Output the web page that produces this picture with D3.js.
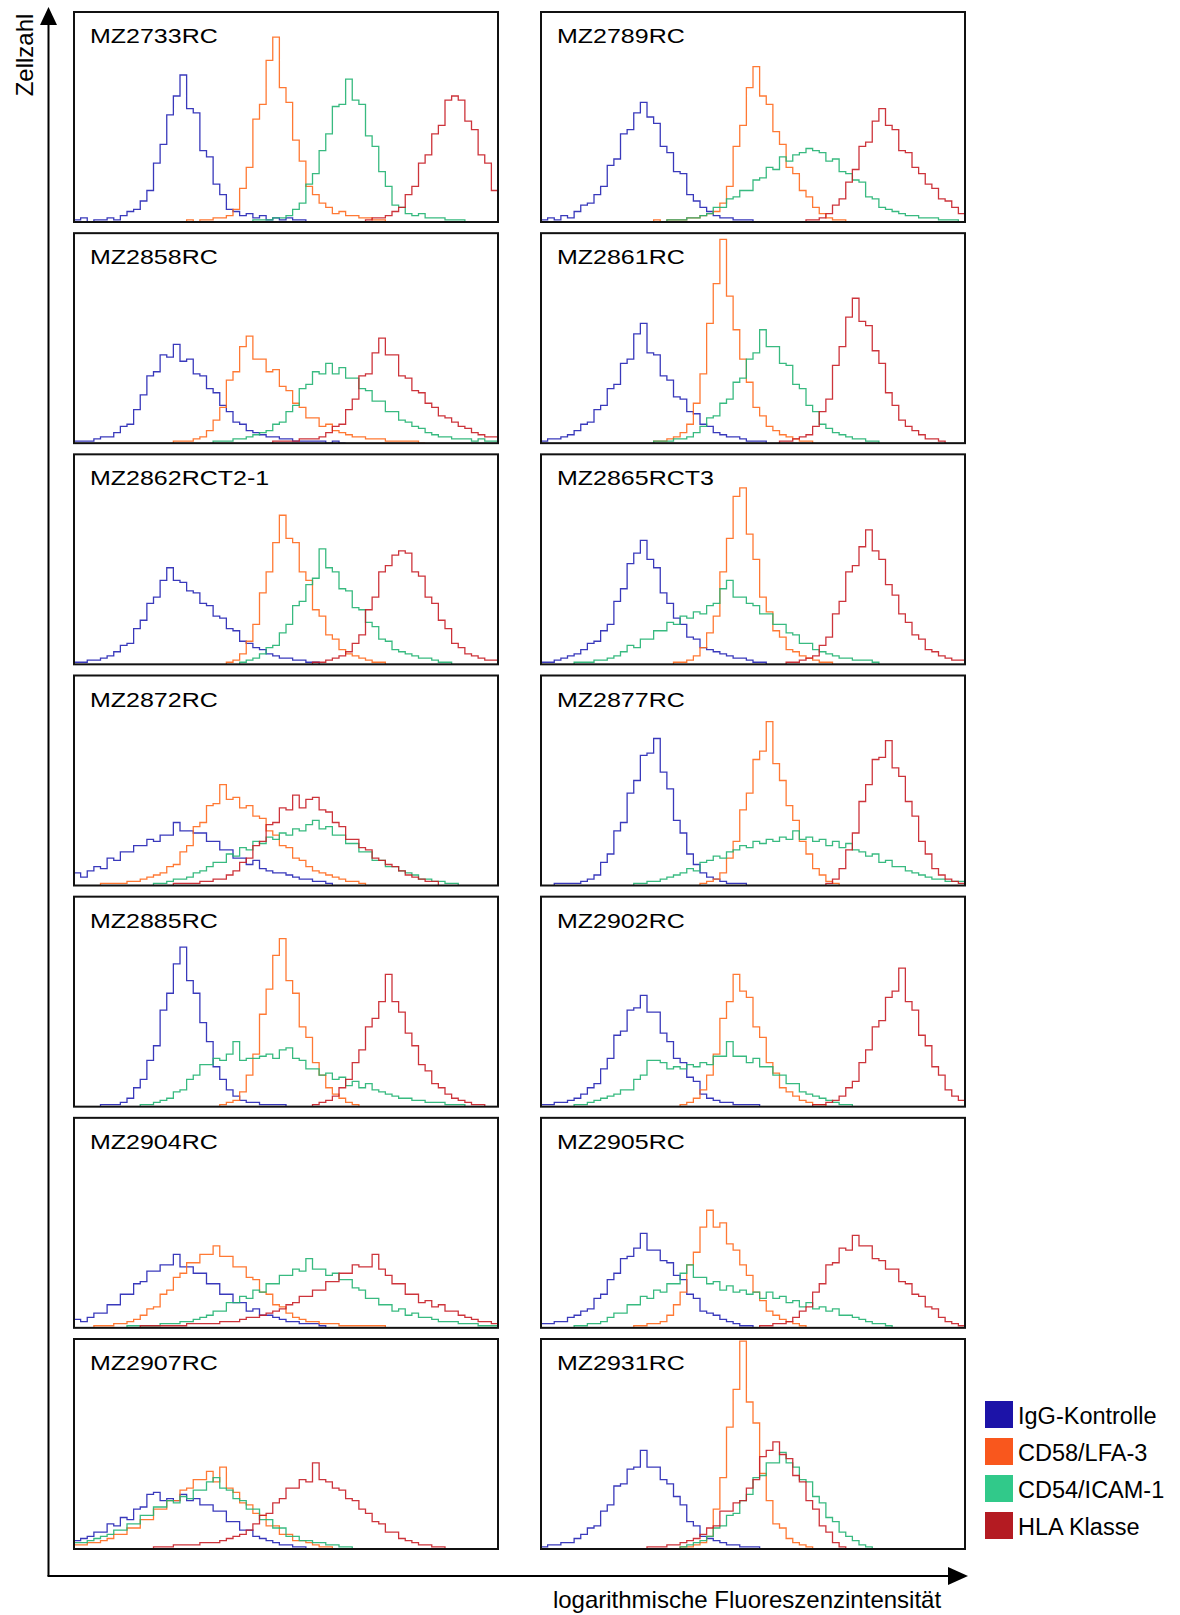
<!DOCTYPE html>
<html>
<head>
<meta charset="utf-8">
<script src="https://cdn.jsdelivr.net/npm/d3@7"></script>
<style>
  body { margin: 0; background: #fff; }
  text { font-family: "Liberation Sans", Arial, sans-serif; fill: #000; }
</style>
</head>
<body>
<svg width="1180" height="1615"></svg>
<script>
// cell lines, one panel each (left column, right column, row by row)
const cellLines = ['MZ2733RC', 'MZ2789RC', 'MZ2858RC', 'MZ2861RC', 'MZ2862RCT2-1', 'MZ2865RCT3',
  'MZ2872RC', 'MZ2877RC', 'MZ2885RC', 'MZ2902RC', 'MZ2904RC', 'MZ2905RC', 'MZ2907RC', 'MZ2931RC']
const markers = ['IgG-Kontrolle', 'CD58/LFA-3', 'CD54/ICAM-1', 'HLA Klasse']
const legendColors = ['#1c13a8', '#f9571d', '#31c98a', '#b41b22']
const lineColors = ['#2323b4', '#ff6a1e', '#22b272', '#c81e26']

// 64 log-fluorescence bins per panel; first bin of each series, then relative cell counts (% of max)
const nBins = 64
const startBins = [
  [0, 17, 27, 44], [0, 17, 19, 40], [0, 15, 21, 30], [0, 17, 17, 36], [0, 23, 25, 36], [0, 20, 5, 37], [0, 4, 12, 15],
  [2, 24, 14, 43], [4, 22, 10, 36], [0, 21, 5, 41], [0, 3, 8, 10], [0, 14, 5, 33], [0, 0, 0, 12], [0, 21, 21, 16]
]

const mz2733rc = [
  [1,2,0,1,1,2,1,3,5,6,10,15,28,37,51,60,70,54,52,34,31,18,13,6,5,3,4,2,3,1,2,1,2,1,1,0],
  [1,0,1,1,2,2,3,6,16,26,49,56,77,88,64,57,39,29,17,13,9,7,4,5,3,3,2,2,1,1],
  [1,1,1,2,2,3,6,9,18,23,34,42,55,56,68,58,56,41,36,24,17,8,7,4,3,4,2,2,2,1,1,1],
  [1,2,2,3,5,7,13,17,28,32,42,46,58,60,58,48,44,32,28,15]
]
const mz2789rc = [
  [1,2,1,3,2,5,8,9,13,17,27,30,42,44,52,57,50,47,36,33,24,23,13,10,7,5,3,2,2,1,1,1,0],
  [1,0,1,1,1,2,2,3,4,5,9,17,36,46,64,74,60,56,43,37,26,23,15,12,7,4,2,1,1],
  [1,1,1,2,2,3,4,7,7,11,12,15,15,20,21,26,25,31,29,32,33,35,34,33,29,30,24,23,20,19,12,11,7,6,5,4,3,3,2,2,2,1,1,1],
  [1,1,2,4,8,11,19,25,36,38,48,54,46,44,34,33,26,23,18,16,11,10,7,4]
]
const mz2858rc = [
  [1,1,1,2,3,3,5,8,9,16,23,32,34,42,41,47,39,40,33,32,26,24,18,15,10,9,6,5,4,3,3,2,2,1,1,1,1,1,0,1,0],
  [1,1,1,2,3,6,11,17,30,34,46,51,40,40,34,35,27,25,19,17,12,12,8,9,6,5,4,3,3,2,2,2,1,1,1,1,1,0],
  [1,1,1,2,2,3,4,5,6,9,10,15,18,26,28,34,33,38,33,36,31,31,26,25,20,20,15,15,11,10,8,7,5,4,3,3,2,2,2,1,2,1,1],
  [1,1,1,1,2,2,2,3,5,8,9,16,21,32,33,43,50,42,42,32,31,25,24,19,17,13,12,10,8,7,5,4,3,3]
]
const mz2861rc = [
  [1,2,2,3,4,6,9,10,16,18,26,28,38,40,52,57,43,42,32,30,22,21,15,14,9,8,5,4,3,3,2,1,1,1],
  [1,1,2,3,5,9,19,33,57,76,97,70,54,40,29,17,13,8,6,4,3,2,1,1],
  [1,1,1,2,2,3,5,8,12,13,19,21,29,31,40,43,54,46,46,38,37,28,26,18,15,9,7,5,4,3,2,2,1,1],
  [1,1,2,3,4,8,15,21,37,46,60,69,58,56,44,38,24,18,11,8,6,4,2,2,1]
]
const mz2862rct21 = [
  [1,1,2,2,3,4,6,9,10,17,21,29,32,40,46,40,39,35,34,29,28,23,22,17,16,11,10,8,7,5,4,3,3,2,2,1,1],
  [1,2,5,11,19,34,44,58,71,60,58,44,40,26,23,14,12,7,5,4,3,2,1,1],
  [1,2,3,5,8,9,15,19,28,30,38,41,55,46,44,36,35,27,26,20,18,12,11,7,6,5,4,3,3,2,1,1],
  [1,1,2,3,4,6,10,14,26,32,44,47,52,54,53,44,42,32,29,21,17,10,8,5,4,3,2,2]
]
const mz2865rct3 = [
  [1,1,2,3,4,5,7,10,11,16,19,30,36,48,53,59,50,46,34,29,22,19,13,12,8,7,6,5,4,3,3,2,1,1],
  [1,1,2,4,8,15,23,44,60,80,84,62,50,32,25,16,13,7,6,4,3,2,1,1],
  [1,1,1,2,2,3,4,6,9,8,12,12,16,16,20,19,23,22,25,24,28,29,36,40,32,32,29,28,24,24,19,19,15,14,10,10,7,6,5,4,3,3,2,2,2,1],
  [1,1,2,3,4,9,13,24,30,44,47,56,64,54,50,38,33,24,20,14,12,7,6,4,3,2,2]
]
const mz2872rc = [
  [6,4,7,9,8,13,12,16,16,19,19,22,21,24,24,30,26,26,25,25,21,21,17,17,13,13,10,12,8,7,6,6,5,4,3,3,2,2,1],
  [1,1,1,1,2,2,3,4,5,6,9,10,16,19,28,30,38,39,48,41,42,37,38,33,32,26,24,19,18,13,12,9,7,6,5,4,3,2,2,1],
  [1,1,2,3,3,4,6,7,9,11,11,15,14,18,17,21,20,23,22,25,24,27,26,29,31,27,28,24,24,20,20,16,16,12,12,9,9,7,6,5,3,3,2,2,1,1],
  [1,1,1,1,2,2,3,3,5,7,11,13,19,21,29,30,37,36,43,37,41,42,36,35,30,28,22,22,18,17,13,12,10,9,7,5,4,3,2,2]
]
const mz2877rc = [
  [1,1,1,1,2,3,5,11,15,26,30,44,50,62,63,70,54,46,31,25,15,10,6,4,3,2,1,1,1],
  [1,2,3,6,13,21,36,44,60,64,78,58,50,38,31,21,15,8,5,2,1],
  [1,1,2,2,3,4,5,6,8,7,11,12,14,13,16,17,19,18,21,20,22,21,23,22,26,22,23,21,22,19,21,18,20,17,16,14,15,11,12,9,9,7,6,5,4,3,3,2,2,2],
  [1,3,8,17,25,40,48,60,61,69,56,52,40,33,21,15,8,5,3,2,1]
]
const mz2885rc = [
  [1,1,1,2,4,9,13,22,29,46,54,68,76,60,54,40,31,19,13,8,5,3,2,2,1,1,1,1,0],
  [1,2,3,7,15,25,44,56,72,80,60,54,38,33,21,15,9,6,4,2,1],
  [1,1,2,3,4,7,8,13,15,20,20,23,22,25,31,22,23,23,24,25,23,27,28,23,22,18,18,15,16,13,14,10,12,9,11,8,7,6,5,4,4,3,3,2,2,2,1,1,1],
  [1,2,3,5,9,13,21,27,38,42,50,63,50,45,35,29,20,17,11,9,6,4,3,2,1,1]
]
const mz2902rc = [
  [1,1,2,2,3,4,6,9,11,18,23,34,36,46,47,53,45,45,35,31,23,21,14,12,6,4,3,2,2,1,1,1,1],
  [1,2,4,8,15,25,42,50,63,55,52,38,33,21,16,9,7,5,3,2,1,1],
  [1,1,2,3,4,5,6,8,8,13,15,22,22,21,18,19,18,20,19,21,20,24,24,31,24,24,21,23,19,19,15,15,11,11,7,6,5,4,3,2,1,1],
  [1,1,2,3,5,9,12,21,27,38,41,52,55,66,50,46,34,29,19,15,8,5,3]
]
const mz2904rc = [
  [4,3,5,7,7,11,11,16,16,21,22,27,27,30,30,35,29,29,26,26,21,21,16,16,12,12,8,9,6,6,5,4,3,3,2,2,2,1],
  [1,1,1,2,2,3,4,6,9,10,16,18,24,26,31,31,35,35,39,34,34,29,29,24,23,17,16,11,10,7,5,4,3,3,2,2,2,1,1,1,1,1,1,1],
  [1,1,1,1,1,2,2,2,3,3,4,5,6,8,8,12,12,15,14,18,17,21,21,25,25,28,27,33,28,28,25,26,23,23,19,18,14,14,11,11,8,9,6,7,5,5,4,3,3,3,2,2,2,1,1,1],
  [1,1,1,1,1,1,1,2,2,2,2,2,3,3,3,4,5,5,6,7,8,9,11,12,15,15,18,18,22,22,26,26,30,29,29,35,28,25,21,21,16,16,12,13,10,11,8,8,6,5,4,3,3,2]
]
const mz2905rc = [
  [2,2,3,3,5,6,8,9,14,16,23,26,33,34,38,45,37,37,32,31,25,23,16,14,8,7,6,4,3,2,1,1],
  [1,1,2,2,3,6,11,17,30,36,48,56,48,50,40,37,30,25,17,13,8,6,4,3,2,1],
  [1,1,2,2,3,5,7,7,11,11,15,14,18,17,21,21,26,30,24,24,21,22,18,20,17,18,16,17,14,17,14,15,12,13,10,12,9,10,8,9,6,6,5,4,3,2,2,1],
  [1,1,2,2,3,5,8,10,17,21,30,31,38,37,44,39,39,33,32,28,28,22,21,16,15,10,9,5,3,2,1]
]
const mz2907rc = [
  [4,5,6,8,8,12,11,15,14,19,20,26,27,23,24,23,26,23,24,21,21,18,18,13,13,9,9,6,5,4,3,2,2,1,1],
  [2,2,3,3,4,5,7,7,10,10,14,14,19,19,23,23,28,29,33,33,37,32,39,29,27,22,21,17,16,11,11,7,7,4,4,3,2,1,1],
  [3,3,4,5,6,7,9,9,12,12,16,16,20,20,23,22,25,24,28,28,32,34,29,28,24,23,19,19,14,14,10,10,6,6,4,4,3,3,2,2,1,1],
  [1,1,1,2,2,2,2,3,3,3,4,5,6,7,9,12,16,17,22,24,29,29,33,32,41,33,32,29,28,24,23,19,17,13,12,8,8,5,4,3,2,2,1,1]
]
const mz2931rc = [
  [1,2,2,3,3,5,7,10,11,18,21,30,31,38,39,47,39,39,33,31,25,21,13,11,6,5,4,3,2,2,1,1,1],
  [1,1,2,3,6,19,34,58,76,99,70,60,36,23,12,10,5,3,2,1],
  [1,2,3,4,6,10,11,16,17,23,26,34,35,41,41,46,41,39,33,32,25,22,15,13,8,6,4,2,1],
  [1,1,1,2,2,3,4,5,7,10,11,18,18,22,23,29,33,44,47,51,45,43,35,32,23,19,11,8,3,1]
]
const histograms = [mz2733rc, mz2789rc, mz2858rc, mz2861rc, mz2862rct21, mz2865rct3, mz2872rc,
  mz2877rc, mz2885rc, mz2902rc, mz2904rc, mz2905rc, mz2907rc, mz2931rc]

const svg = d3.select('svg')
const panelW = 424
const panelH = 210
const colLeft = [74, 541]
const rowTop = d3.scaleLinear().domain([0, 6]).range([12, 1339])

const x = d3.scaleLinear().domain([0, nBins]).range([0, panelW])
const y = d3.scaleLinear().domain([0, 100]).range([panelH, 0])

const line = d3.line()
  .x(d => x(d[0]))
  .y(d => y(d[1]))
  .curve(d3.curveStepAfter)

cellLines.forEach((name, p) => {
  const g = svg.append('g')
    .attr('transform', `translate(${colLeft[p % 2]},${rowTop(Math.floor(p / 2))})`)

  g.append('clipPath').attr('id', 'clip' + p)
    .append('rect').attr('width', panelW).attr('height', panelH)

  const plot = g.append('g').attr('clip-path', `url(#clip${p})`)
  histograms[p].forEach((counts, s) => {
    const start = startBins[p][s]
    const pts = [[start, 0]].concat(counts.map((v, i) => [start + i, v]))
    pts.push([start + counts.length, 0])
    plot.append('path')
      .attr('d', line(pts))
      .attr('fill', 'none')
      .attr('stroke', lineColors[s])
      .attr('stroke-width', 1.3)
      .attr('stroke-opacity', 0.9)
  })

  g.append('rect')
    .attr('width', panelW)
    .attr('height', panelH)
    .attr('fill', 'none')
    .attr('stroke', '#111')
    .attr('stroke-width', 2)

  g.append('text')
    .attr('transform', 'translate(16,31) scale(1.19,1)')
    .attr('font-size', 21)
    .text(name)
})

// axes with arrow heads
const axisY = 1576
const axisX = 48.5
svg.append('line')
  .attr('x1', axisX).attr('y1', axisY).attr('x2', axisX).attr('y2', 22)
  .attr('stroke', '#000').attr('stroke-width', 2)
svg.append('path')
  .attr('d', `M${axisX},7 L${axisX - 8.5},25 L${axisX + 8.5},25 Z`)
  .attr('fill', '#000')
svg.append('line')
  .attr('x1', axisX - 1).attr('y1', axisY).attr('x2', 950).attr('y2', axisY)
  .attr('stroke', '#000').attr('stroke-width', 2)
svg.append('path')
  .attr('d', `M968,${axisY} L948,${axisY - 9} L948,${axisY + 9} Z`)
  .attr('fill', '#000')

svg.append('text')
  .attr('transform', 'translate(33,55) rotate(-90)')
  .attr('text-anchor', 'middle')
  .attr('font-size', 24)
  .text('Zellzahl')

svg.append('text')
  .attr('x', 747)
  .attr('y', 1608)
  .attr('text-anchor', 'middle')
  .attr('font-size', 24)
  .text('logarithmische Fluoreszenzintensität')

// legend
const legend = svg.selectAll('.legend')
  .data(markers)
  .enter().append('g')
  .attr('class', 'legend')
  .attr('transform', (d, i) => `translate(985,${1401 + i * 37})`)

legend.append('rect')
  .attr('width', 28)
  .attr('height', 27)
  .attr('fill', (d, i) => legendColors[i])

legend.append('text')
  .attr('x', 33)
  .attr('y', 23)
  .attr('font-size', 23.5)
  .text(d => d)
</script>
</body>
</html>
